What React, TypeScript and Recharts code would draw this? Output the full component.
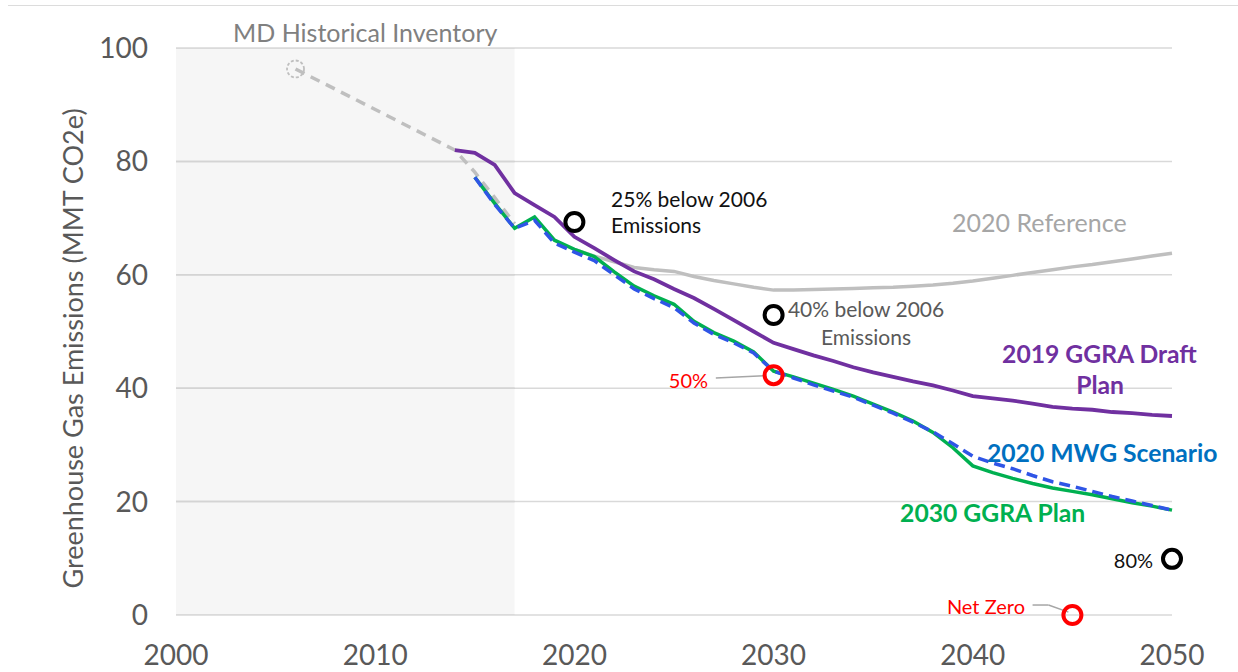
import {
  ComposedChart,
  Line,
  XAxis,
  YAxis,
  CartesianGrid,
  ReferenceArea,
  ReferenceDot,
  ReferenceLine,
} from 'recharts';

const FONT = 'Lato, "Open Sans", sans-serif';

const X_TICKS = [2000, 2010, 2020, 2030, 2040, 2050];
const Y_TICKS = [0, 20, 40, 60, 80, 100];
const HISTORY_SPAN = [2000, 2017];

const historicalYears = [2006, 2014, 2015, 2016, 2017];
const historical = [96.3, 82.0, 78.1, 73.6, 69.0];

const draftYears = [
  2014, 2015, 2016, 2017, 2018, 2019, 2020, 2021, 2022, 2023, 2024, 2025, 2026,
  2027, 2028, 2029, 2030, 2031, 2032, 2033, 2034, 2035, 2036, 2037, 2038, 2039,
  2040, 2041, 2042, 2043, 2044, 2045, 2046, 2047, 2048, 2049, 2050,
];
const draftPlan2019 = [
  82.0, 81.5, 79.4, 74.4, 72.3, 70.2, 66.7, 64.7, 62.6, 60.6, 59.2, 57.5, 55.9,
  54.0, 52.0, 50.0, 48.0, 46.9, 45.8, 44.8, 43.7, 42.8, 42.0, 41.2, 40.5, 39.6,
  38.6, 38.2, 37.8, 37.3, 36.7, 36.4, 36.2, 35.8, 35.6, 35.3, 35.1,
];

const referenceYears = [
  2020, 2021, 2022, 2023, 2024, 2025, 2026, 2027, 2028, 2029, 2030, 2031, 2032,
  2033, 2034, 2035, 2036, 2037, 2038, 2039, 2040, 2041, 2042, 2043, 2044, 2045,
  2046, 2047, 2048, 2049, 2050,
];
const reference2020 = [
  64.5, 63.3, 62.3, 61.3, 60.9, 60.6, 59.7, 59.0, 58.4, 57.8, 57.3, 57.3, 57.4,
  57.5, 57.6, 57.7, 57.8, 58.0, 58.2, 58.5, 58.9, 59.4, 59.9, 60.4, 60.9, 61.4,
  61.8, 62.3, 62.8, 63.3, 63.8,
];

const planYears = [
  2015, 2016, 2017, 2018, 2019, 2020, 2021, 2022, 2023, 2024, 2025, 2026, 2027,
  2028, 2029, 2030, 2031, 2032, 2033, 2034, 2035, 2036, 2037, 2038, 2039, 2040,
  2041, 2042, 2043, 2044, 2045, 2046, 2047, 2048, 2049, 2050,
];
const ggraPlan2030 = [
  77.2, 72.6, 68.2, 70.2, 66.1, 64.5, 63.2, 60.5, 58.0, 56.3, 54.8, 51.8, 49.8,
  48.3, 46.4, 43.0, 42.0, 40.9, 39.8, 38.6, 37.2, 35.8, 34.2, 32.2, 29.5, 26.3,
  25.1, 24.1, 23.2, 22.4, 21.8, 21.2, 20.5, 19.8, 19.2, 18.5,
];
const mwgScenario2020 = [
  77.2, 72.4, 68.2, 69.6, 65.6, 64.0, 62.5, 60.0, 57.5, 55.8, 54.2, 51.5, 49.5,
  48.0, 46.2, 43.0, 41.8, 40.6, 39.5, 38.4, 37.0, 35.6, 34.0, 32.3, 30.2, 28.0,
  26.8, 25.8, 24.6, 23.5, 22.7, 21.8, 20.9, 20.1, 19.3, 18.5,
];

// target circles
const targets = [
  { year: 2020, value: 69.3, color: '#000000' },
  { year: 2030, value: 52.9, color: '#000000' },
  { year: 2030, value: 42.3, color: '#ff0000' },
  { year: 2050, value: 9.9, color: '#000000' },
  { year: 2045, value: 0, color: '#ff0000' },
];

type Row = { year: number; [k: string]: number | null };

function buildRows(): Row[] {
  const map = new Map<number, Row>();
  const put = (years: number[], values: number[], key: string) => {
    years.forEach((y, i) => {
      if (!map.has(y)) map.set(y, { year: y });
      map.get(y)![key] = values[i];
    });
  };
  put(historicalYears, historical, 'historical');
  put(draftYears, draftPlan2019, 'draft');
  put(referenceYears, reference2020, 'reference');
  put(planYears, ggraPlan2030, 'plan');
  put(planYears, mwgScenario2020, 'mwg');
  return Array.from(map.values()).sort((a, b) => a.year - b.year);
}

const rows = buildRows();

type Note = {
  year: number;
  value: number;
  text: string;
  color: string;
  size?: number;
  bold?: boolean;
  anchor?: 'start' | 'middle' | 'end';
};

const notes: Note[] = [
  { year: 2009.5, value: 102.8, text: 'MD Historical Inventory', color: '#808080', size: 25, anchor: 'middle' },
  { year: 2021.84, value: 73.5, text: '25% below 2006', color: '#111111', size: 21 },
  { year: 2021.84, value: 68.8, text: 'Emissions', color: '#111111', size: 21 },
  { year: 2038.96, value: 69.3, text: '2020 Reference', color: '#a6a6a6', size: 25 },
  { year: 2030.72, value: 54.1, text: '40% below 2006', color: '#595959', size: 21 },
  { year: 2034.64, value: 49.2, text: 'Emissions', color: '#595959', size: 21, anchor: 'middle' },
  { year: 2041.47, value: 46.2, text: '2019 GGRA Draft', color: '#7030a0', size: 24.7, bold: true },
  { year: 2046.39, value: 40.6, text: 'Plan', color: '#7030a0', size: 24.7, bold: true, anchor: 'middle' },
  { year: 2026.71, value: 41.4, text: '50%', color: '#ff0000', anchor: 'end' },
  { year: 2040.71, value: 28.7, text: '2020 MWG Scenario', color: '#0070c0', size: 24.7, bold: true },
  { year: 2036.35, value: 18.0, text: '2030 GGRA Plan', color: '#00b050', size: 24.7, bold: true },
  { year: 2049.05, value: 9.7, text: '80%', color: '#111111', anchor: 'end' },
  { year: 2042.62, value: 1.6, text: 'Net Zero', color: '#ff0000', anchor: 'end' },
];

function noteShape(n: Note) {
  return (p: any) => (
    <text
      x={p.cx}
      y={p.cy}
      fill={n.color}
      fontSize={n.size ?? 20}
      fontWeight={n.bold ? 700 : 400}
      fontFamily={FONT}
      textAnchor={n.anchor ?? 'start'}
      dominantBaseline="central"
    >
      {n.text}
    </text>
  );
}

const yLabel = (props: any) => {
  const { x, y, height } = props.viewBox;
  const cx = x + 72;
  const cy = y + height / 2 + 17;
  return (
    <text
      x={cx}
      y={cy}
      transform={`rotate(-90 ${cx} ${cy})`}
      textAnchor="middle"
      dominantBaseline="central"
      fill="#595959"
      fontSize={27}
      fontFamily={FONT}
    >
      Greenhouse Gas Emissions (MMT CO2e)
    </text>
  );
};

export default function App() {
  return (
    <div
      style={{
        position: 'absolute',
        left: 0,
        top: 0,
        width: 1238,
        height: 672,
        background: '#fff',
        overflow: 'hidden',
      }}
    >
      <div style={{ position: 'absolute', left: 8, right: 0, top: 5, height: 1, background: '#dcdcdc' }} />
      <ComposedChart width={1238} height={672} data={rows} margin={{ top: 48, right: 66, bottom: 0, left: 0 }}>
        <CartesianGrid vertical={false} stroke="#d9d9d9" strokeWidth={1.5} />
        <ReferenceArea
          x1={HISTORY_SPAN[0]}
          x2={HISTORY_SPAN[1]}
          y1={0}
          y2={100}
          fill="#000000"
          fillOpacity={0.035}
          stroke="none"
        />
        {/* grid lines again over the shaded history block */}
        {Y_TICKS.slice(1, -1).map((v) => (
          <ReferenceLine
            key={`g-${v}`}
            segment={[
              { x: HISTORY_SPAN[0], y: v },
              { x: HISTORY_SPAN[1], y: v },
            ]}
            stroke="#d4d4d4"
            strokeWidth={1.5}
          />
        ))}
        <XAxis
          type="number"
          dataKey="year"
          domain={[2000, 2050]}
          ticks={X_TICKS}
          axisLine={false}
          tickLine={false}
          tickSize={0}
          tickMargin={30}
          height={57}
          tick={{ fill: '#595959', fontSize: 28, fontFamily: FONT }}
        />
        <YAxis
          domain={[0, 100]}
          ticks={Y_TICKS}
          axisLine={false}
          tickLine={false}
          tickSize={0}
          tickMargin={28}
          width={176}
          tick={{ fill: '#595959', fontSize: 28, fontFamily: FONT }}
          label={{ content: yLabel }}
        />
        <Line
          dataKey="historical"
          stroke="#bfbfbf"
          strokeWidth={3.5}
          strokeDasharray="10 7"
          dot={false}
          connectNulls
          isAnimationActive={false}
        />
        <Line dataKey="reference" stroke="#bfbfbf" strokeWidth={3.5} dot={false} isAnimationActive={false} />
        <Line dataKey="draft" stroke="#7030a0" strokeWidth={3.8} dot={false} isAnimationActive={false} />
        <Line dataKey="plan" stroke="#00b050" strokeWidth={3.5} dot={false} isAnimationActive={false} />
        <Line
          dataKey="mwg"
          stroke="#2f55e6"
          strokeWidth={3.5}
          strokeDasharray="11 6"
          dot={false}
          isAnimationActive={false}
        />
        <ReferenceDot
          x={historicalYears[0]}
          y={historical[0]}
          r={8}
          ifOverflow="visible"
          shape={(p: any) => (
            <circle cx={p.cx} cy={p.cy} r={8.5} fill="none" stroke="#bfbfbf" strokeWidth={1.8} strokeDasharray="3 2" />
          )}
        />
        <ReferenceLine
          segment={[
            { x: 2027.1, y: 41.8 },
            { x: 2029.6, y: 42.2 },
          ]}
          stroke="#a6a6a6"
          strokeWidth={1.5}
          ifOverflow="visible"
        />
        <ReferenceLine
          segment={[
            { x: 2043.0, y: 1.76 },
            { x: 2043.8, y: 1.76 },
          ]}
          stroke="#a6a6a6"
          strokeWidth={1.5}
          ifOverflow="visible"
        />
        <ReferenceLine
          segment={[
            { x: 2043.8, y: 1.76 },
            { x: 2044.8, y: 0.5 },
          ]}
          stroke="#a6a6a6"
          strokeWidth={1.5}
          ifOverflow="visible"
        />
        {targets.map((t, i) => (
          <ReferenceDot
            key={`t-${i}`}
            x={t.year}
            y={t.value}
            r={9}
            fill="none"
            stroke={t.color}
            strokeWidth={4}
            ifOverflow="visible"
          />
        ))}
        {notes.map((n, i) => (
          <ReferenceDot key={`n-${i}`} x={n.year} y={n.value} r={1} ifOverflow="visible" shape={noteShape(n)} />
        ))}
      </ComposedChart>
    </div>
  );
}
